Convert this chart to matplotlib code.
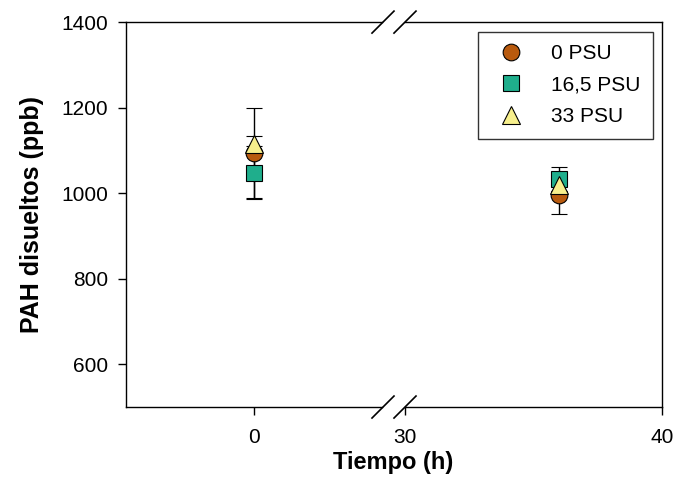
import matplotlib
matplotlib.use("Agg")
import matplotlib.pyplot as plt
from matplotlib.lines import Line2D

plt.rcParams['font.family'] = ['Liberation Sans', 'DejaVu Sans']

# data
tiempo = [0, 36]
series = ["0 PSU", "16,5 PSU", "33 PSU"]
pah_0 = [1094, 996]
err_0 = [106, 44]
pah_165 = [1048, 1033]
err_165 = [62, 28]
pah_33 = [1115, 1020]
err_33 = [18, 15]

markers = ["o", "s", "^"]
colors = ["#b85a0e", "#1fae8c", "#f7ef8c"]
sizes = [12, 11, 13]

fig = plt.figure(figsize=(6.81, 4.91), dpi=100)
ax1 = fig.add_axes([0.185, 0.171, 0.376, 0.784])
ax2 = fig.add_axes([0.5947, 0.171, 0.3773, 0.784], sharey=ax1)

values = [pah_0, pah_165, pah_33]
errors = [err_0, err_165, err_33]

handles = []
for ax in (ax1, ax2):
    for name, v, e, m, c, s in zip(series, values, errors, markers, colors, sizes):
        ax.errorbar(tiempo, v, yerr=e, fmt=m, color="black", ecolor="black",
                    mfc=c, mec="black", mew=0.8, ms=s, capsize=6, elinewidth=1,
                    capthick=1)
for name, m, c, s in zip(series, markers, colors, sizes):
    handles.append(Line2D([], [], ls='none', marker=m, mfc=c, mec='black',
                          mew=0.8, ms=s, label=name))

ax1.set_xlim(-5, 5)
ax2.set_xlim(30, 40)
ax1.set_ylim(500, 1400)
ax1.set_yticks([600, 800, 1000, 1200, 1400])
ax1.set_xticks([0])
ax2.set_xticks([30, 40])

ax1.spines['right'].set_visible(False)
ax2.spines['left'].set_visible(False)
ax2.tick_params(axis='y', left=False, labelleft=False)

for ax in (ax1, ax2):
    ax.tick_params(direction='out', length=6, width=1, labelsize=15, pad=7)
    ax.tick_params(axis='x', pad=9)
    for sp in ax.spines.values():
        sp.set_linewidth(1.0)

ax1.set_ylabel("PAH disueltos (ppb)", fontsize=18, fontweight='bold', labelpad=12)
fig.text(0.578, 0.045, "Tiempo (h)", ha='center', fontsize=17, fontweight='bold')

# break marks on top and bottom spines
for yf in (0.955, 0.171):
    for xc in (383 / 681, 405 / 681):
        dx = 11 / 681
        dy = 11 / 491
        fig.add_artist(Line2D([xc - dx, xc + dx], [yf - dy, yf + dy],
                              color="black", lw=1.2))

leg = ax2.legend(handles=handles, loc='upper right', fontsize=15, frameon=True,
                 fancybox=False, edgecolor='black', borderpad=0.6,
                 handletextpad=0.9, labelspacing=0.6, borderaxespad=0,
                 bbox_to_anchor=(0.965, 0.975))
leg.get_frame().set_linewidth(1.0)

fig.savefig("out.png", dpi=100)
